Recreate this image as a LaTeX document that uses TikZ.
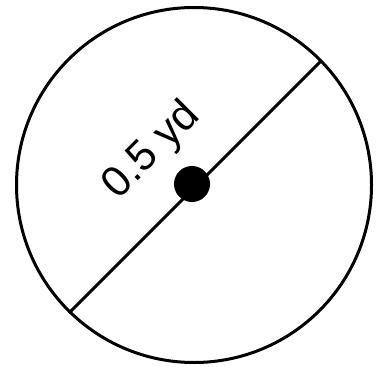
\documentclass[tikz,border=0pt]{standalone}
\usepackage{fontspec}
\setmainfont{Liberation Sans}
\begin{document}
\begin{tikzpicture}[x=1pt,y=-1pt,
  outline/.style={line width=3pt,draw=black},
  lbl/.style={font=\fontsize{43}{48}\selectfont,rotate=45,inner sep=0pt}]
\useasboundingbox (0,0) rectangle (379,366);
\coordinate (c) at (194,185);
\draw[outline] (c) circle [radius=177.5pt];
\coordinate (a) at (321,61);
\coordinate (b) at (69,313);
\draw[outline] (b) -- (a);
\fill (192,184) circle [radius=18pt];
\node[lbl] (t) at (152,151) {0.5 yd};
\end{tikzpicture}
\end{document}
